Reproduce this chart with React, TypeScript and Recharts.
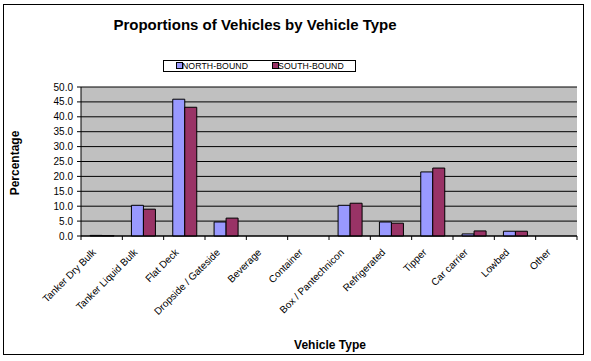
import React from "react";
import { BarChart, Bar, XAxis, YAxis, CartesianGrid } from "recharts";

const categories = [
  "Tanker Dry Bulk",
  "Tanker Liquid Bulk",
  "Flat Deck",
  "Dropside / Gateside",
  "Beverage",
  "Container",
  "Box / Pantechnicon",
  "Refrigerated",
  "Tipper",
  "Car carrier",
  "Lowbed",
  "Other",
];
const northBound = [0.2, 10.3, 45.9, 4.7, 0, 0, 10.3, 4.7, 21.5, 0.7, 1.6, 0];
const southBound = [0.1, 9.0, 43.2, 6.0, 0, 0, 11.0, 4.3, 22.8, 1.7, 1.6, 0];
const seriesNames = ["NORTH-BOUND", "SOUTH-BOUND"];
const yTicks = [0, 5, 10, 15, 20, 25, 30, 35, 40, 45, 50];

const NB_COLOR = "#9999FF";
const SB_COLOR = "#993366";
const FONT = "Arial, 'Liberation Sans', sans-serif";

const data = categories.map((c, i) => ({ name: c, nb: northBound[i], sb: southBound[i] }));

const BAND = 496 / categories.length;

const XTick = (props: any) => {
  const { x, y, payload, index } = props;
  const left = x - BAND / 2;
  const tx = x - 5;
  const ty = y + 9;
  return (
    <g>
      <line x1={left} y1={y - 8} x2={left} y2={y - 4} stroke="#000" />
      {index === categories.length - 1 && (
        <line x1={x + BAND / 2} y1={y - 8} x2={x + BAND / 2} y2={y - 4} stroke="#000" />
      )}
      <text
        x={tx}
        y={ty}
        textAnchor="end"
        transform={`rotate(-45, ${tx}, ${ty})`}
        fontSize={10}
        fontFamily={FONT}
        fill="#000"
      >
        {payload.value}
      </text>
    </g>
  );
};

const legendPos = [
  { sq: 176, tx: 182 },
  { sq: 272, tx: 278 },
];

export default function App() {
  return (
    <div
      style={{
        position: "absolute",
        left: 0,
        top: 0,
        width: 591,
        height: 361,
        background: "#fff",
        fontFamily: FONT,
      }}
    >
      <div
        style={{
          position: "absolute",
          left: 3,
          top: 4,
          width: 581,
          height: 351,
          border: "1px solid #000",
          boxSizing: "border-box",
        }}
      />
      <div
        style={{
          position: "absolute",
          left: 0,
          width: 510,
          top: 16,
          textAlign: "center",
          fontSize: 15,
          fontWeight: "bold",
          color: "#000",
          whiteSpace: "nowrap",
        }}
      >
        Proportions of Vehicles by Vehicle Type
      </div>
      <div
        style={{
          position: "absolute",
          left: 163,
          top: 60,
          width: 193,
          height: 12,
          border: "1px solid #000",
          boxSizing: "border-box",
        }}
      />
      {seriesNames.map((n, i) => (
        <React.Fragment key={n}>
          <span
            style={{
              position: "absolute",
              left: legendPos[i].sq,
              top: 62,
              width: 5,
              height: 5,
              border: "1px solid #000",
              background: i === 0 ? NB_COLOR : SB_COLOR,
            }}
          />
          <span
            style={{
              position: "absolute",
              left: legendPos[i].tx,
              top: 60,
              fontSize: 8.7,
              lineHeight: "12px",
              letterSpacing: 0.1,
              whiteSpace: "nowrap",
              color: "#000",
            }}
          >
            {n}
          </span>
        </React.Fragment>
      ))}
      <div
        style={{
          position: "absolute",
          left: 15,
          top: 163,
          transform: "translate(-50%, -50%) rotate(-90deg)",
          fontSize: 12,
          fontWeight: "bold",
          whiteSpace: "nowrap",
        }}
      >
        Percentage
      </div>
      <div
        style={{
          position: "absolute",
          left: 330,
          top: 345,
          transform: "translate(-50%, -50%)",
          fontSize: 12,
          fontWeight: "bold",
          whiteSpace: "nowrap",
        }}
      >
        Vehicle Type
      </div>
      <div style={{ position: "absolute", left: 0, top: 0 }}>
        <BarChart
          width={591}
          height={361}
          data={data}
          margin={{ top: 87, right: 14, left: 0, bottom: 0 }}
          barCategoryGap="22%"
          barGap={0}
        >
          <CartesianGrid vertical={false} stroke="#000" fill="#C0C0C0" fillOpacity={1} />
          <XAxis
            dataKey="name"
            interval={0}
            height={125}
            tickLine={false}
            axisLine={{ stroke: "#000" }}
            tick={<XTick />}
          />
          <YAxis
            domain={[0, 50]}
            ticks={yTicks}
            width={81}
            interval={0}
            tickFormatter={(v: number) => v.toFixed(1)}
            tick={{ fontSize: 10, fill: "#000", fontFamily: FONT }}
            tickSize={4}
            tickMargin={4}
            tickLine={{ stroke: "#000" }}
            axisLine={{ stroke: "#000" }}
          />
          <Bar dataKey="nb" fill={NB_COLOR} stroke="#000" strokeWidth={1} isAnimationActive={false} />
          <Bar dataKey="sb" fill={SB_COLOR} stroke="#000" strokeWidth={1} isAnimationActive={false} />
        </BarChart>
      </div>
    </div>
  );
}
